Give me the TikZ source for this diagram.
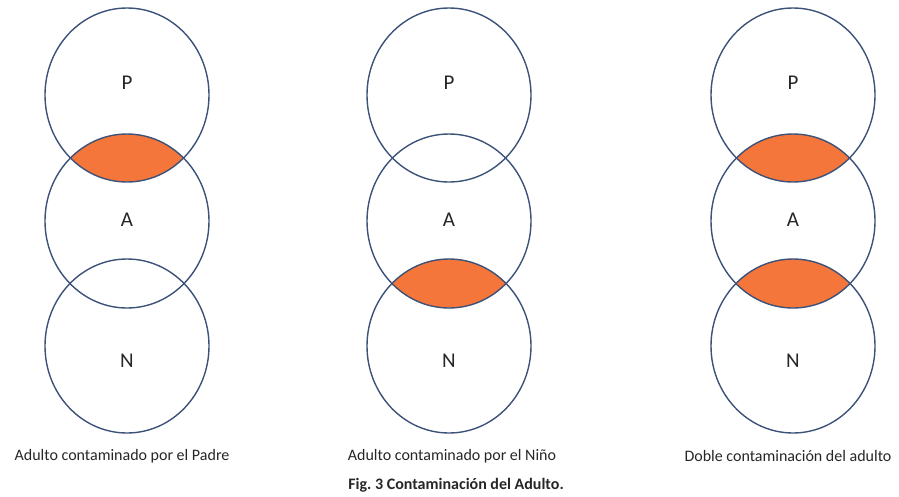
\documentclass[tikz,border=0pt]{standalone}
\usepackage{fontspec}
\setmainfont{Carlito}
\definecolor{ringline}{RGB}{60,82,120}
\definecolor{lensfill}{RGB}{245,118,58}
\begin{document}
\begin{tikzpicture}[x=1pt,y=-1pt,
  ring/.style={draw=ringline,line width=1.4pt},
  lbl/.style={font=\fontsize{21}{23}\selectfont,text=black!85},
  captxt/.style={font=\fontsize{16}{18}\selectfont,text=black!85}]
\useasboundingbox (0,0) rectangle (899,496);
\def\rx{82}\def\ry{87}
% lenses
\foreach \cx/\yy in {127/95, 793/95}{
  \begin{scope}
    \clip (\cx,\yy) ellipse [x radius=\rx, y radius=\ry];
    \fill[lensfill] (\cx,\yy+126) ellipse [x radius=\rx, y radius=\ry];
  \end{scope}}
\foreach \cx/\yy in {449/221, 793/221}{
  \begin{scope}
    \clip (\cx,\yy) ellipse [x radius=\rx, y radius=\ry];
    \fill[lensfill] (\cx,\yy+125) ellipse [x radius=\rx, y radius=\ry];
  \end{scope}}
% rings
\foreach \cx in {127,449,793}{
  \draw[ring] (\cx,95) ellipse [x radius=\rx, y radius=\ry];
  \draw[ring] (\cx,221) ellipse [x radius=\rx, y radius=\ry];
  \draw[ring] (\cx,346) ellipse [x radius=\rx, y radius=\ry];
}
% labels
\foreach \cx/\n in {127/l,449/m,793/r}{
  \node[lbl] (P\n) at (\cx,83) {P};
  \node[lbl] (A\n) at (\cx,220) {A};
  \node[lbl] (N\n) at (\cx,361) {N};
}
\node[captxt] (c1) at (122,456) {Adulto contaminado por el Padre};
\node[captxt] (c2) at (452,456) {Adulto contaminado por el Niño};
\node[captxt] (c3) at (788,456) {Doble contaminación del adulto};
\node[captxt,font=\fontsize{16}{18}\selectfont\bfseries] (fig) at (456,485) {Fig.\ 3 Contaminación del Adulto.};
\end{tikzpicture}
\end{document}
